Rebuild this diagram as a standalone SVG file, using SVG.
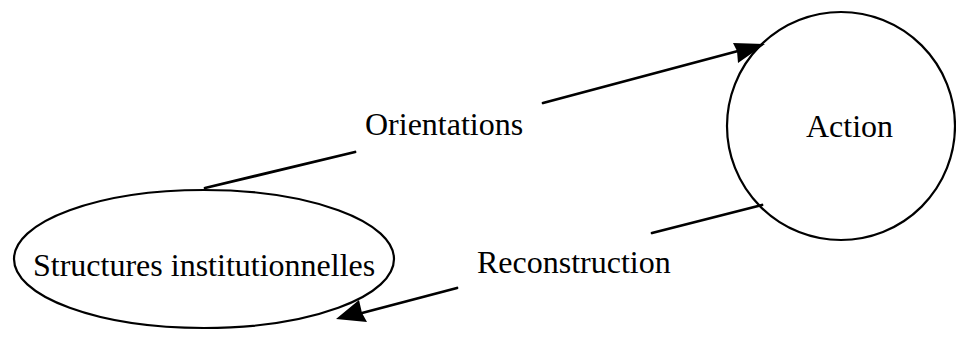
<svg xmlns="http://www.w3.org/2000/svg" width="956" height="337" viewBox="0 0 956 337">
<style>
.n{fill:none;stroke:#000;stroke-width:2.2}
.c{fill:none;stroke:#000;stroke-width:2.8;stroke-linecap:round}
text{font-family:"Liberation Serif","Times New Roman",serif;font-size:32px;fill:#000}
</style>
<defs>
<marker id="ah" markerWidth="12" markerHeight="10" refX="11" refY="5" orient="auto" markerUnits="userSpaceOnUse" viewBox="0 0 12 10">
<path d="M0,0 L12,5 L0,10 L3,5 Z" fill="#000"/>
</marker>
</defs>
<rect width="956" height="337" fill="#fff"/>
<g id="action">
<circle class="n" cx="841" cy="126" r="114"/>
<text x="806" y="137">Action</text>
</g>
<g id="structures">
<ellipse class="n" cx="204" cy="259" rx="190" ry="69"/>
<text x="33" y="276">Structures institutionnelles</text>
</g>
<g id="connectors">
<line class="c" x1="205" y1="188" x2="355" y2="152"/>
<path class="c" d="M543,103 L738,51"/>
<path d="M765,44 L733,43 L737,51 L738,63 Z" fill="#000"/>
<text x="365" y="135">Orientations</text>
<line class="c" x1="762" y1="205" x2="652" y2="233"/>
<path class="c" d="M457,288 L362,313"/>
<path d="M336,319 L359,300 L362,313 L367,322 Z" fill="#000"/>
<text x="477" y="273">Reconstruction</text>
</g>
</svg>
